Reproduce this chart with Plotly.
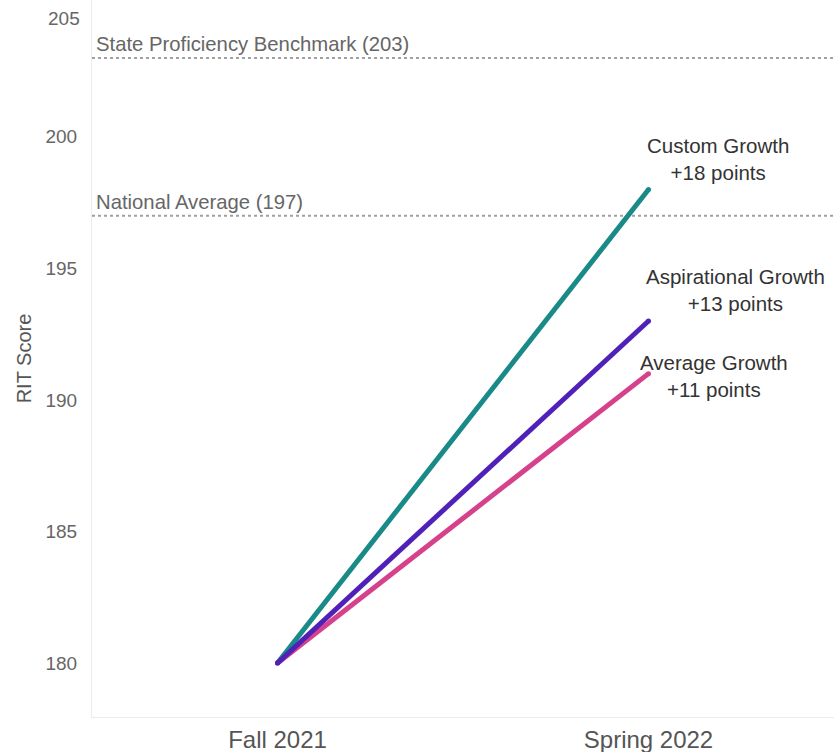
import plotly.graph_objects as go

# Test windows and growth scenarios
terms = ["Fall 2021", "Spring 2022"]
series_names = ["Custom Growth", "Average Growth", "Aspirational Growth"]
series_values = [
    [180, 198],
    [180, 191],
    [180, 193],
]
series_colors = ["#198a88", "#d6418b", "#5021b9"]

# Reference benchmarks
ref_names = ["State Proficiency Benchmark", "National Average"]
ref_values = [203, 197]

y_ticks = [180, 185, 190, 195, 200, 205]

fig = go.Figure()

for name, vals, color in zip(series_names, series_values, series_colors):
    fig.add_trace(go.Scatter(
        x=terms, y=vals, mode="lines+markers", name=name,
        line=dict(color=color, width=5),
        marker=dict(color=color, size=5),
        hoverinfo="skip", showlegend=False,
    ))

# Dotted benchmark lines with their captions
for name, v in zip(ref_names, ref_values):
    fig.add_shape(type="line", xref="paper", x0=0, x1=1, yref="y", y0=v, y1=v,
                  line=dict(color="#a0a0a0", width=2, dash="dot"), layer="below")
    fig.add_annotation(xref="paper", x=0.003, xanchor="left", yref="y", y=v,
                       yanchor="bottom", yshift=1, showarrow=False,
                       text=f"{name} ({v})",
                       font=dict(size=20.3, color="#666666"))

# End-of-line growth labels: (horizontal offset, vertical offset, anchor)
label_pos = [(69, 3, "bottom"), (65, -2, "middle"), (87, 4, "bottom")]
for name, vals, (xs, ys, ya) in zip(series_names, series_values, label_pos):
    gain = vals[1] - vals[0]
    fig.add_annotation(x=terms[1], y=vals[1], xshift=xs, yshift=ys,
                       yanchor=ya, showarrow=False, align="center",
                       text=f"{name}<br>+{gain} points",
                       font=dict(size=20.5, color="#333333"))

# Top tick label sits just inside the plot edge
fig.add_annotation(xref="paper", x=0, xanchor="right", xshift=-10,
                   yref="y", y=y_ticks[-1], yshift=-13, showarrow=False,
                   text=str(y_ticks[-1]), font=dict(size=19, color="#666666"))

fig.update_layout(
    width=834, height=752,
    margin=dict(l=92, r=0, t=0, b=35),
    paper_bgcolor="white", plot_bgcolor="white",
    font=dict(family="Liberation Sans, Arial, sans-serif", color="#666666"),
    xaxis=dict(
        type="category", range=[-0.5, 1.5],
        showgrid=False, zeroline=False,
        showline=True, linecolor="#ececec", linewidth=1,
        ticks="", ticklabelstandoff=1,
        tickfont=dict(size=24, color="#555555"),
    ),
    yaxis=dict(
        range=[177.95, 205.2],
        tickvals=y_ticks[:-1], ticktext=[str(t) for t in y_ticks[:-1]],
        showgrid=False, zeroline=False,
        showline=True, linecolor="#ececec", linewidth=1,
        ticks="", ticklabelstandoff=10,
        tickfont=dict(size=19, color="#666666"),
        title=dict(text="RIT Score", font=dict(size=20, color="#555555"), standoff=8),
    ),
)

fig.write_html("out.html")
